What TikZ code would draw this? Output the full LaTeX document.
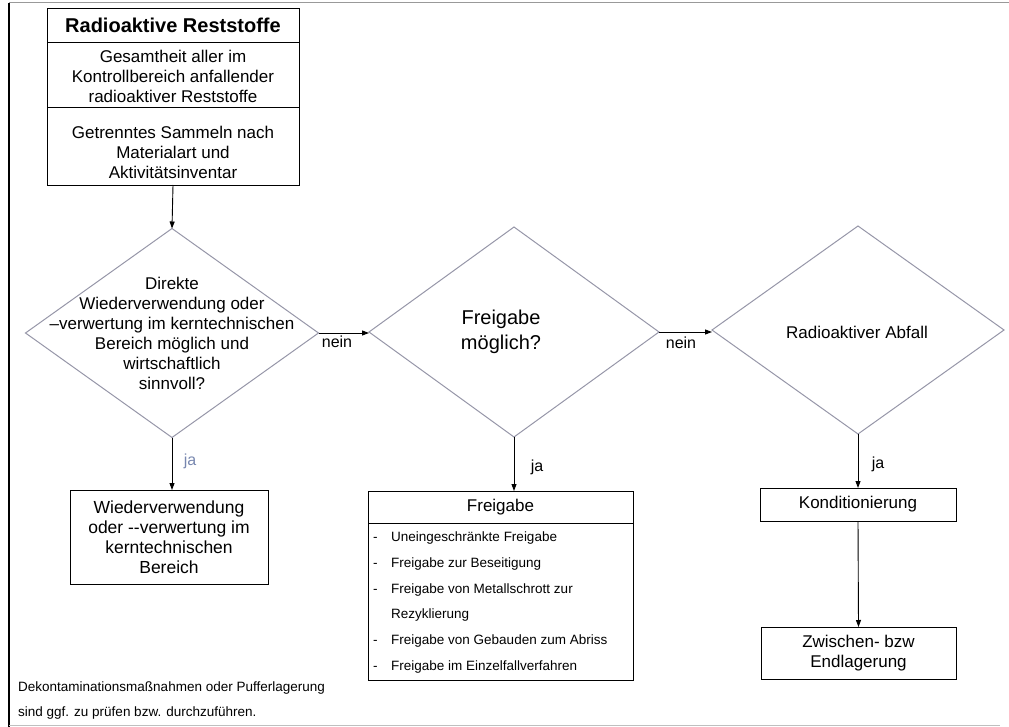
\documentclass[tikz,border=0pt]{standalone}
\usepackage{fontspec}
\setmainfont{Liberation Sans}
\usetikzlibrary{shapes.geometric,arrows.meta}
\definecolor{diaedge}{RGB}{150,150,168}
\definecolor{jablue}{RGB}{120,135,175}
\begin{document}
\begin{tikzpicture}[x=1pt,y=-1pt,
  box/.style={draw=black,line width=0.9pt,inner sep=0pt,outer sep=0pt,align=center,
    font=\fontsize{17}{20}\selectfont},
  dia/.style={diamond,draw=diaedge,line width=1pt,inner sep=0pt,outer sep=0pt},
  diatext/.style={align=center,inner sep=0pt,font=\fontsize{17}{20}\selectfont},
  arr/.style={-{Triangle[length=7pt,width=5pt]},line width=0.9pt},
  lbl/.style={inner sep=0pt,font=\fontsize{16}{19}\selectfont},
  small/.style={inner sep=0pt,align=left,font=\fontsize{13.5}{25.7}\selectfont}]
\useasboundingbox (0,0) rectangle (1009,727);
% frame
\draw[black,line width=1.1pt] (9,3) -- (9,727);
\draw[gray!80,line width=1pt] (9,3) -- (1009,3);
\draw[gray!50,line width=0.8pt] (9,725) -- (1000,725);
% top box
\node[box,minimum width=252pt,minimum height=34pt,font=\bfseries\fontsize{20}{23}\selectfont]
  (title) at (173,25) {Radioaktive Reststoffe};
\node[box,minimum width=252pt,minimum height=65pt] (row2) at (173,74.5)
  {\rule{0pt}{17pt}Gesamtheit aller im\\Kontrollbereich anfallender\\radioaktiver Reststoffe};
\node[box,minimum width=252pt,minimum height=78pt] (row3) at (173,146)
  {\rule{0pt}{25pt}Getrenntes Sammeln nach\\Materialart und\\Aktivitätsinventar};
% diamonds
\node[dia,minimum width=293pt,minimum height=209pt] (d1) at (172,333) {};
\node[diatext] (t1) at (172,333) {Direkte\\Wiederverwendung oder\\–verwertung im kerntechnischen\\Bereich möglich und\\wirtschaftlich\\sinnvoll?};
\node[dia,minimum width=290pt,minimum height=210pt] (d2) at (514,332) {};
\node[diatext,font=\fontsize{20}{25}\selectfont] (t2) at (501,332) {Freigabe\\möglich?};
\node[dia,minimum width=292pt,minimum height=208pt] (d3) at (858,330) {};
\node[diatext] (t3) at (857,332) {Radioaktiver Abfall};
% result boxes
\node[box,minimum width=198pt,minimum height=94pt,font=\fontsize{17.5}{20}\selectfont] (wv) at (169,537)
  {Wiederverwendung\\oder -{}-verwertung im\\kerntechnischen\\Bereich};
\node[box,minimum width=265pt,minimum height=32pt] (fh) at (500.5,507) {Freigabe};
\node[box,minimum width=265pt,minimum height=157pt] (fb) at (500.5,601.5) {};
\node[small,anchor=west] (fl) at (373,602.5)
  {\makebox[18pt][l]{-}Uneingeschränkte Freigabe\\
   \makebox[18pt][l]{-}Freigabe zur Beseitigung\\
   \makebox[18pt][l]{-}Freigabe von Metallschrott zur\\
   \hspace*{18pt}Rezyklierung\\
   \makebox[18pt][l]{-}Freigabe von Gebauden zum Abriss\\
   \makebox[18pt][l]{-}Freigabe im Einzelfallverfahren};
\node[box,minimum width=196pt,minimum height=33pt] (kond) at (858,504.5) {Konditionierung};
\node[box,minimum width=195pt,minimum height=52pt] (zw) at (858.5,653) {Zwischen- bzw\\Endlagerung};
% connectors
\draw[arr] (row3.south) -- (d1.north);
\draw[arr] (d1.east) -- (d1.east -| d2.west);
\draw[arr] (d2.east) -- (d2.east -| d3.west);
\draw[arr] (d1.south) -- (d1.south |- wv.north);
\draw[arr] (d2.south) -- (d2.south |- fh.north);
\draw[arr] (d3.south) -- (d3.south |- kond.north);
\draw[arr] (kond.south) -- (zw.north);
% labels
\node[lbl] (n1) at (337,342) {nein};
\node[lbl] (n2) at (681,343) {nein};
\node[lbl,text=jablue] (j1) at (190,461) {ja};
\node[lbl] (j2) at (537,467) {ja};
\node[lbl] (j3) at (878,464) {ja};
% footnote
\node[small,anchor=west] (foot) at (18,700.5)
  {Dekontaminationsmaßnahmen oder Pufferlagerung\\sind ggf. zu prüfen bzw. durchzuführen.};
\end{tikzpicture}
\end{document}
